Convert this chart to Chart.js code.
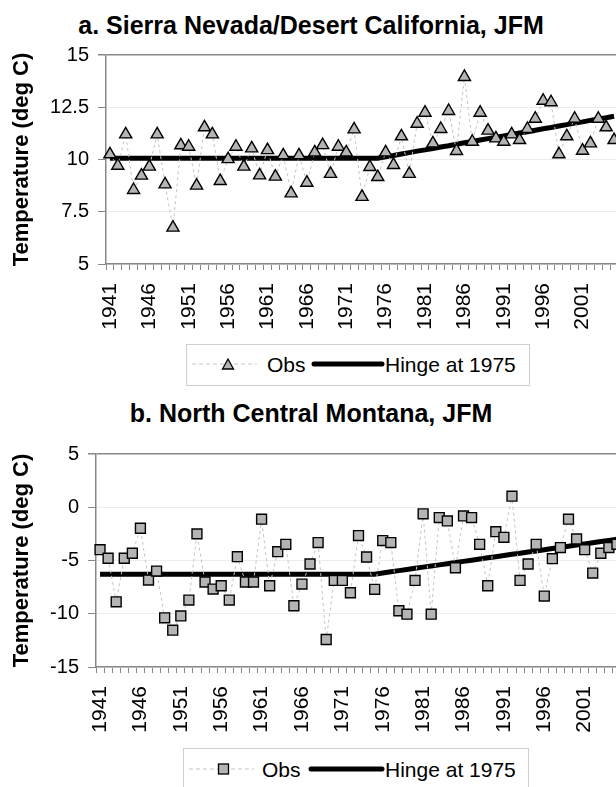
<!DOCTYPE html>
<html>
<head>
<meta charset="utf-8">
<script src="https://cdn.jsdelivr.net/npm/chart.js@4.4.1/dist/chart.umd.min.js"></script>
<style>
  body { margin: 0; width: 616px; height: 787px; overflow: hidden; position: relative; background: #fff;
         font-family: "Liberation Sans", Arial, sans-serif; }
  .title { position: absolute; left: 0; width: 622px; text-align: center; font-weight: bold; font-size: 25px; }
  canvas { position: absolute; left: 0; }
  svg { position: absolute; }
</style>
</head>
<body>
<div class="title" style="top:11px">a. Sierra Nevada/Desert California, JFM</div>
<canvas id="sierra" width="640" height="335" style="top:0"></canvas>
<svg style="left:186px;top:344px" width="344" height="42">
  <rect x="0.5" y="0.5" width="343" height="41" fill="#fff" stroke="#cfcfcf"/>
  <line x1="6" y1="20" x2="71" y2="20" stroke="#c4c4c4" stroke-width="1" stroke-dasharray="4,3"/>
  <polygon points="42,15 47.5,25 36.5,25" fill="#b4b4b4" stroke="#000" stroke-width="1.3"/>
  <text x="81" y="28" font-size="21" font-family="Liberation Sans">Obs</text>
  <line x1="128" y1="20" x2="196" y2="20" stroke="#000" stroke-width="5" stroke-linecap="round"/>
  <text x="199" y="28" font-size="21" font-family="Liberation Sans">Hinge at 1975</text>
</svg>

<div class="title" style="top:399px">b. North Central Montana, JFM</div>
<canvas id="montana" width="640" height="348" style="top:390px"></canvas>
<svg style="left:183px;top:748px" width="346" height="42">
  <rect x="0.5" y="0.5" width="345" height="41" fill="#fff" stroke="#cfcfcf"/>
  <line x1="6" y1="21" x2="71" y2="21" stroke="#c4c4c4" stroke-width="1" stroke-dasharray="4,3"/>
  <rect x="35.5" y="16" width="10" height="10" fill="#b4b4b4" stroke="#000" stroke-width="1.3"/>
  <text x="79" y="29" font-size="21" font-family="Liberation Sans">Obs</text>
  <line x1="128" y1="21" x2="199" y2="21" stroke="#000" stroke-width="5" stroke-linecap="round"/>
  <text x="202" y="29" font-size="21" font-family="Liberation Sans">Hinge at 1975</text>
</svg>

<script>
var years = [];
for (var y = 1941; y <= 2005; y++) years.push(String(y));

// a. Sierra Nevada / Desert California, JFM
var sierraObs = [10.25, 9.70, 11.2, 8.54, 9.23, 9.66, 11.2, 8.81, 6.74, 10.68,
  10.61, 8.75, 11.54, 11.2, 8.97, 10.02, 10.61, 9.66, 10.53, 9.24,
  10.45, 9.18, 10.2, 8.38, 10.2, 8.89, 10.34, 10.69, 9.31, 10.61,
  10.34, 11.44, 8.21, 9.64, 9.16, 10.34, 9.74, 11.11, 9.31, 11.71,
  12.24, 10.77, 11.46, 12.32, 10.41, 13.95, 10.85, 12.24, 11.38, 11.01,
  10.85, 11.2, 10.93, 11.46, 11.95, 12.81, 12.74, 10.25, 11.11, 11.95,
  10.42, 10.77, 11.95, 11.54, 10.93];
var sierraHinge = [10.06, 10.06, 10.06, 10.06, 10.06, 10.06, 10.06, 10.06, 10.06, 10.06,
  10.06, 10.06, 10.06, 10.06, 10.06, 10.06, 10.06, 10.06, 10.06, 10.06,
  10.06, 10.06, 10.06, 10.06, 10.06, 10.06, 10.06, 10.06, 10.06, 10.06,
  10.06, 10.06, 10.06, 10.06, 10.06, 10.13, 10.19, 10.26, 10.33, 10.40,
  10.46, 10.53, 10.60, 10.66, 10.73, 10.80, 10.86, 10.93, 11.00, 11.07,
  11.13, 11.20, 11.27, 11.33, 11.40, 11.47, 11.53, 11.60, 11.67, 11.74,
  11.80, 11.87, 11.94, 12.00, 12.07];

// b. North Central Montana, JFM
var montanaObs = [-3.98, -4.79, -8.88, -4.79, -4.32, -1.97, -6.84, -5.99, -10.38, -11.54,
  -10.2, -8.72, -2.5, -7.02, -7.68, -7.37, -8.72, -4.64, -7.02, -7.02,
  -1.12, -7.37, -4.17, -3.48, -9.25, -7.21, -5.33, -3.32, -12.42, -6.87,
  -6.87, -8.03, -2.66, -4.67, -7.71, -3.13, -3.32, -9.72, -10.04, -6.87,
  -0.62, -10.04, -0.97, -1.28, -5.68, -0.81, -0.97, -3.48, -7.37, -2.29,
  -2.82, 1.04, -6.87, -5.33, -3.48, -8.34, -4.83, -3.79, -1.12, -2.98,
  -3.98, -6.18, -4.32, -3.79, -3.48];
var montanaHinge = [-6.28, -6.28, -6.28, -6.28, -6.28, -6.28, -6.28, -6.28, -6.28, -6.28,
  -6.28, -6.28, -6.28, -6.28, -6.28, -6.28, -6.28, -6.28, -6.28, -6.28,
  -6.28, -6.28, -6.28, -6.28, -6.28, -6.28, -6.28, -6.28, -6.28, -6.28,
  -6.28, -6.28, -6.28, -6.28, -6.28, -6.17, -6.06, -5.95, -5.84, -5.73,
  -5.62, -5.52, -5.41, -5.30, -5.19, -5.08, -4.97, -4.86, -4.75, -4.64,
  -4.53, -4.42, -4.32, -4.21, -4.10, -3.99, -3.88, -3.77, -3.66, -3.55,
  -3.44, -3.33, -3.22, -3.12, -3.01];

var sierraTicks = [5, 15, 2.5];
var montanaTicks = [-15, 5, 5];

Chart.defaults.font.family = '"Liberation Sans", Arial, sans-serif';
Chart.defaults.color = '#000';

function makeChart(id, obs, hinge, marker, yTicks, axisWidth, pad) {
  var ymin = yTicks[0], ymax = yTicks[1];
  return new Chart(document.getElementById(id), {
    type: 'line',
    data: {
      labels: years,
      datasets: [{
        label: 'Obs',
        data: obs,
        borderColor: '#c4c4c4',
        borderWidth: 1,
        borderDash: [3, 3],
        pointStyle: marker,
        pointRadius: 7,
        pointBackgroundColor: '#b4b4b4',
        pointBorderColor: '#000',
        pointBorderWidth: 1.4,
        tension: 0
      }, {
        label: 'Hinge at 1975',
        data: hinge,
        borderColor: '#000',
        borderWidth: 5,
        pointRadius: 0,
        tension: 0
      }]
    },
    options: {
      responsive: false,
      animation: false,
      layout: { padding: pad },
      plugins: { legend: { display: false }, tooltip: { enabled: false } },
      scales: {
        x: {
          offset: true,
          grid: { offset: true, drawOnChartArea: false, tickLength: 6, tickColor: '#888' },
          border: { color: '#888', width: 1.5 },
          ticks: {
            autoSkip: false, minRotation: 90, maxRotation: 90, padding: 13,
            font: { size: 21 },
            callback: function (v, i) { return i % 5 === 0 ? years[i] : ''; }
          },
          afterFit: function (s) { s.height = 71; s.paddingLeft = 0; s.paddingRight = 0; }
        },
        y: {
          min: ymin, max: ymax,
          grid: {
            tickLength: 8, tickColor: '#888',
            color: function (c) { return c.tick && c.tick.value === ymax ? '#888' : '#ececec'; },
            lineWidth: function (c) { return c.tick && c.tick.value === ymax ? 1.5 : 1; }
          },
          border: { color: '#888', width: 1.5 },
          ticks: { stepSize: yTicks[2], padding: 9, font: { size: 20 } },
          title: { display: true, text: 'Temperature (deg C)', font: { size: 22, weight: 'bold' }, padding: 9 },
          afterFit: function (s) { s.width = axisWidth; }
        }
      }
    }
  });
}

makeChart('sierra', sierraObs, sierraHinge, 'triangle', sierraTicks, 106, { top: 55, right: 22, bottom: 0, left: 0 });
makeChart('montana', montanaObs, montanaHinge, 'rect', montanaTicks, 96, { top: 64, right: 19, bottom: 0, left: 0 });
</script>
</body>
</html>
